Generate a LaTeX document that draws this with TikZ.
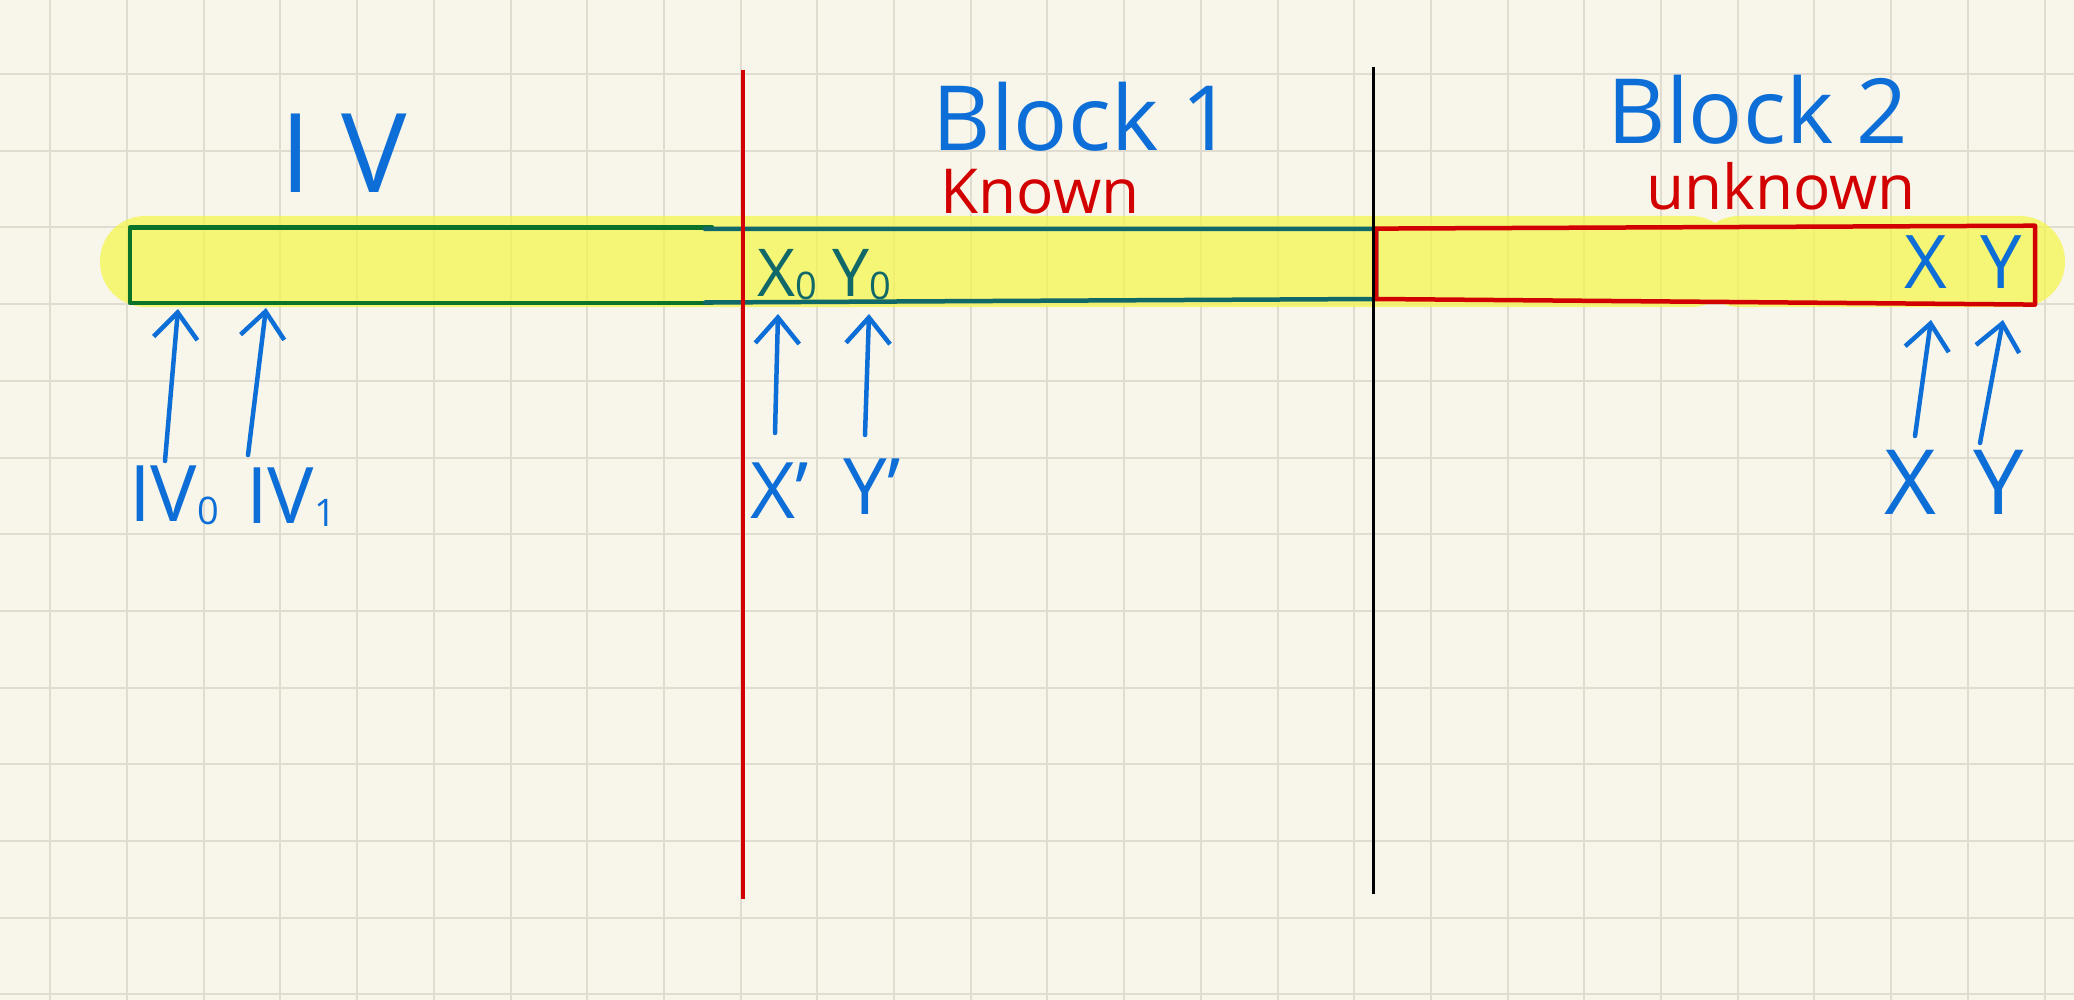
\documentclass[tikz,border=0pt]{standalone}
\usepackage{fontspec}
\setmainfont{Open Sans}
\usetikzlibrary{arrows.meta}
\definecolor{paper}{RGB}{248,246,234}
\definecolor{gridc}{RGB}{224,221,208}
\definecolor{hl}{RGB}{245,245,80}
\definecolor{pen}{RGB}{12,110,214}
\definecolor{redpen}{RGB}{210,0,0}
\definecolor{greenpen}{RGB}{10,115,40}
\definecolor{tealpen}{RGB}{16,104,104}
\newcommand\lowsub[1]{\raisebox{-3pt}{\fontsize{38}{38}\selectfont #1}}
\tikzset{
  hand/.style={inner sep=0pt, anchor=base},
  bluetxt/.style={hand, text=pen},
  redtxt/.style={hand, text=redpen},
  tealtxt/.style={hand, text=tealpen},
  arr/.style={draw=pen, line width=4.5pt, line cap=round, line join=round,
    -{Straight Barb[length=26pt,width=44pt]}},
  gridline/.style={draw=gridc, line width=2pt},
  boxline/.style={line width=4.5pt, line join=round, line cap=round},
}
\begin{document}
\begin{tikzpicture}[x=1pt,y=-1pt]
\useasboundingbox (0,0) rectangle (2074,1000);
\fill[paper] (0,0) rectangle (2074,1000);
% grid
\foreach \k in {0,...,26} \draw[gridline] ({50.3+76.7*\k},0) -- ({50.3+76.7*\k},1000);
\foreach \k in {0,...,12} \draw[gridline] (0,{74+76.7*\k}) -- (2074,{74+76.7*\k});
% highlighter band
\fill[hl, fill opacity=0.75, rounded corners=45pt] (100,216) rectangle (1736,307) (1694,216) rectangle (2065,307);
% boxes
\draw[boxline, greenpen] (712,227.5) -- (130,227.5) -- (130,303) -- (712,303);
\draw[boxline, tealpen] (705,229) -- (1376,229) -- (1376,299) -- (705,302.5);
\draw[boxline, redpen] (1376,228.6) -- (2035,225.7) -- (2035,304.6) -- (1376,299) -- cycle;
% dividers
\draw[redpen, line width=3.5pt] (743,70) -- (743,899);
\draw[black, line width=3pt] (1373,67) -- (1373,894);
% headings
\node[bluetxt, font=\fontsize{110}{110}\selectfont] (ivhead) at (344,193) {I\hspace{30pt}V};
\node[bluetxt, font=\fontsize{90}{90}\selectfont] (blockone) at (1083,151) {Block 1};
\node[bluetxt, font=\fontsize{90}{90}\selectfont] (blocktwo) at (1758,144) {Block 2};
\node[redtxt, font=\fontsize{62}{62}\selectfont] (known) at (1040,214) {Known};
\node[redtxt, font=\fontsize{62}{62}\selectfont] (unknown) at (1781,210) {unknown};
% inside band
\node[tealtxt, font=\fontsize{66}{66}\selectfont] (xzero) at (787,296) {X\lowsub{0}};
\node[tealtxt, font=\fontsize{66}{66}\selectfont] (yzero) at (862,296) {Y\lowsub{0}};
\node[bluetxt, font=\fontsize{74}{74}\selectfont] (xbox) at (1926,288) {X};
\node[bluetxt, font=\fontsize{74}{74}\selectfont] (ybox) at (2001,288) {Y};
% labels below
\node[bluetxt, font=\fontsize{78}{78}\selectfont] (ivzero) at (174,521) {IV\lowsub{0}};
\node[bluetxt, font=\fontsize{78}{78}\selectfont] (ivone) at (291,523) {IV\lowsub{1}};
\node[bluetxt, font=\fontsize{78}{78}\selectfont] (xprime) at (780,518) {X'};
\node[bluetxt, font=\fontsize{78}{78}\selectfont] (yprime) at (872,514) {Y'};
\node[bluetxt, font=\fontsize{90}{90}\selectfont] (xlab) at (1910,514) {X};
\node[bluetxt, font=\fontsize{90}{90}\selectfont] (ylab) at (1999,514) {Y};
% arrow ends
\coordinate (ta) at (165,461); \coordinate (ha) at (178,309);
\coordinate (tb) at (248,455); \coordinate (hb) at (266,308);
\coordinate (tc) at (775,433); \coordinate (hc) at (778,314);
\coordinate (td) at (865,435); \coordinate (hd) at (869,314);
\coordinate (te) at (1915,436); \coordinate (he) at (1931,320);
\coordinate (tf) at (1980,443); \coordinate (hf) at (2003,320);
\draw[arr] (ta) -- (ha);
\draw[arr] (tb) -- (hb);
\draw[arr] (tc) -- (hc);
\draw[arr] (td) -- (hd);
\draw[arr] (te) -- (he);
\draw[arr] (tf) -- (hf);
\end{tikzpicture}
\end{document}
